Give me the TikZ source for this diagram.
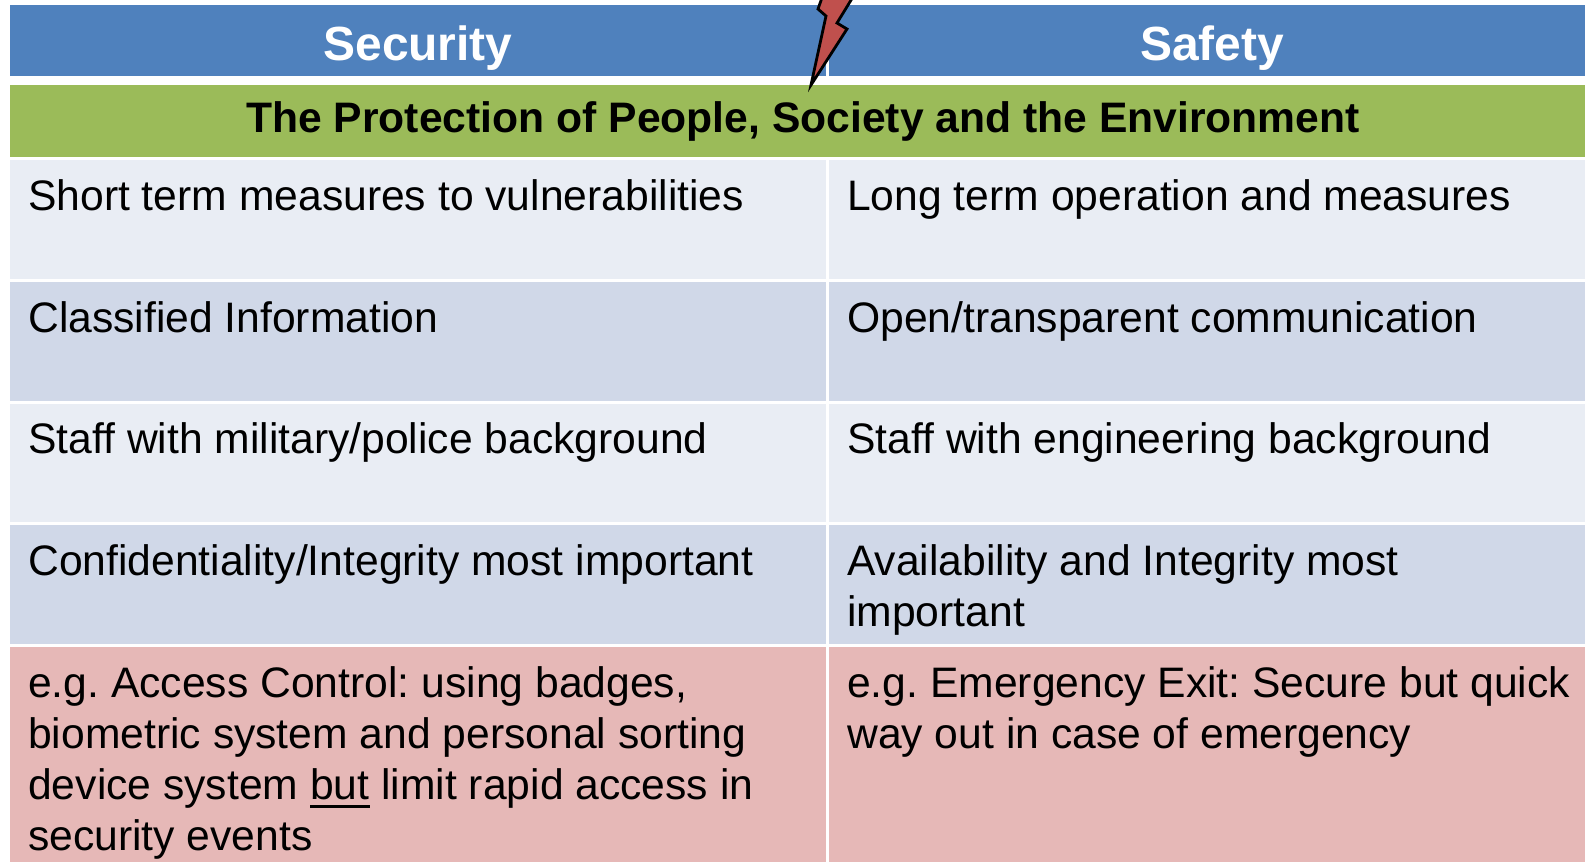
\documentclass[tikz,border=0pt]{standalone}
\usepackage{fontspec}
\setmainfont{Liberation Sans}
\definecolor{hdr}{RGB}{79,129,189}
\definecolor{grn}{RGB}{155,187,89}
\definecolor{rowa}{RGB}{233,237,244}
\definecolor{rowb}{RGB}{208,216,232}
\definecolor{rowc}{RGB}{230,184,183}
\definecolor{bolt}{RGB}{192,80,77}
\newcommand{\px}{0.0264583cm}
\newcommand{\ulbar}[1]{\setbox0\hbox{#1}\rlap{\rule[-6.75pt]{\wd0}{2.25pt}}\box0\relax}
\tikzset{
  x=\px,y=-\px,
  celltxt/.style={anchor=north west,align=left,inner sep=0pt,text=black,font=\fontsize{32.1}{38.4}\selectfont\frenchspacing},
  hdrtxt/.style={anchor=center,font=\bfseries\fontsize{36.1}{40}\selectfont,text=white,inner sep=0pt},
}
\begin{document}
\begin{tikzpicture}
\useasboundingbox (0,0) rectangle (1585,862);
\fill[white] (0,0) rectangle (1585,862);
% headers
\fill[hdr] (10,5) rectangle (826,76);
\fill[hdr] (829,5) rectangle (1585,76);
\fill[grn] (10,85) rectangle (1585,157);
\fill[rowa] (10,160) rectangle (826,279);
\fill[rowa] (829,160) rectangle (1585,279);
\fill[rowb] (10,282) rectangle (826,401);
\fill[rowb] (829,282) rectangle (1585,401);
\fill[rowa] (10,404) rectangle (826,522);
\fill[rowa] (829,404) rectangle (1585,522);
\fill[rowb] (10,525) rectangle (826,644);
\fill[rowb] (829,525) rectangle (1585,644);
\fill[rowc] (10,647) rectangle (826,862);
\fill[rowc] (829,647) rectangle (1585,862);
\node[hdrtxt] (sec) at (418,48) {Security};
\node[hdrtxt] (saf) at (1212,48) {Safety};
\node[anchor=center,inner sep=0pt,font=\bfseries\fontsize{32.1}{36}\selectfont] (prot) at (803,121.5) {The Protection of People, Society and the Environment};
\node[celltxt] (a1) at (28,179.5) {Short term measures to vulnerabilities};
\node[celltxt] (b1) at (847,179.5) {Long term operation and measures};
\node[celltxt] (a2) at (28,301.5) {Classified Information};
\node[celltxt] (b2) at (847,301.5) {Open/transparent communication};
\node[celltxt] (a3) at (28,422.5) {Staff with military/police background};
\node[celltxt] (b3) at (847,422.5) {Staff with engineering background};
\node[celltxt] (a4) at (28,544) {Confidentiality/Integrity most important};
\node[celltxt] (b4) at (847,544) {Availability and Integrity most\\important};
\node[celltxt] (a5) at (28,666) {e.g. Access Control: using badges,\\biometric system and personal sorting\\device system \ulbar{but} limit rapid access in\\security events};
\node[celltxt] (b5) at (847,666) {e.g. Emergency Exit: Secure but quick\\way out in case of emergency};
\clip (0,0) rectangle (1585,862);
\draw[black,line width=2.1pt,fill=bolt,line join=miter]
 (811,85) -- (826,16) -- (818,9) -- (824,-8) -- (856,-8) -- (837,23) -- (847,29) -- cycle;
\end{tikzpicture}
\end{document}
